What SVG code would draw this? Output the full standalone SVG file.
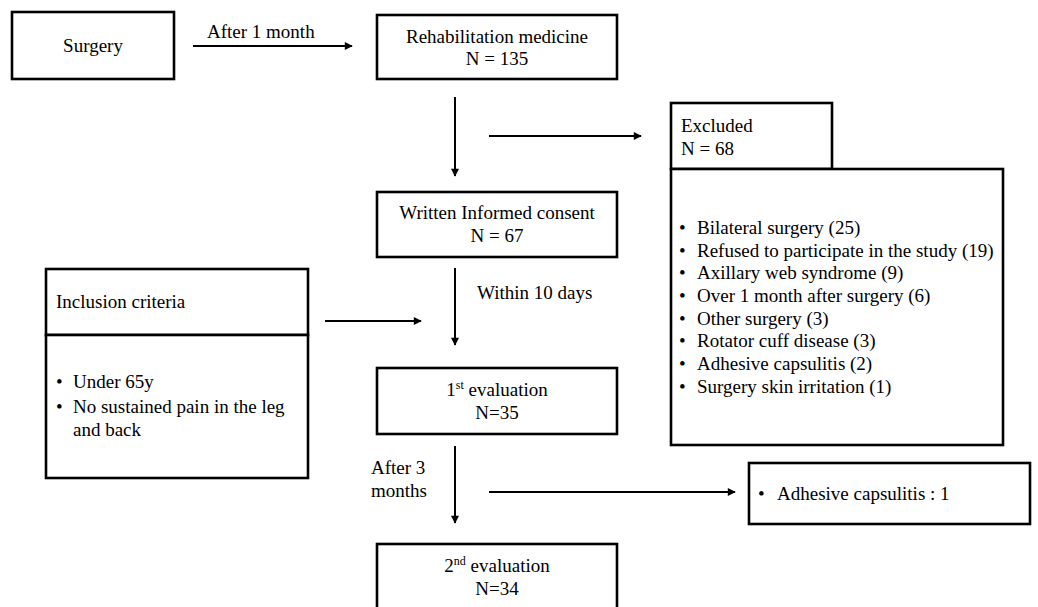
<svg xmlns="http://www.w3.org/2000/svg" width="1038" height="607" viewBox="0 0 1038 607">
<style>
.box{fill:#fff;stroke:#000;stroke-width:2.6}
.t{font-family:"Liberation Serif","Times New Roman",serif;font-size:19px;fill:#000}
.c{text-anchor:middle}
.ln{stroke:#000;stroke-width:2;fill:none}
</style>
<defs>
<marker id="ah" viewBox="0 0 10 10" refX="9" refY="5" markerWidth="9" markerHeight="8" markerUnits="userSpaceOnUse" orient="auto">
<path d="M0,0 L10,5 L0,10 z" fill="#000"/>
</marker>
</defs>
<rect width="1038" height="607" fill="#fff"/>
<g id="connectors">
<line class="ln" x1="193" y1="46" x2="352" y2="46" marker-end="url(#ah)"/>
<text class="t" x="207" y="38">After 1 month</text>
<line class="ln" x1="455" y1="97" x2="455" y2="176" marker-end="url(#ah)"/>
<line class="ln" x1="489" y1="136" x2="641" y2="136" marker-end="url(#ah)"/>
<line class="ln" x1="455" y1="268" x2="455" y2="345" marker-end="url(#ah)"/>
<text class="t" x="477" y="299">Within 10 days</text>
<line class="ln" x1="325" y1="321" x2="421" y2="321" marker-end="url(#ah)"/>
<line class="ln" x1="455" y1="446" x2="455" y2="523" marker-end="url(#ah)"/>
<text class="t" x="371" y="474">After 3</text>
<text class="t" x="371" y="497">months</text>
<line class="ln" x1="489" y1="492" x2="735" y2="492" marker-end="url(#ah)"/>
</g>
<g id="surgery">
<rect class="box" x="12" y="12" width="162" height="67"/>
<text class="t c" x="93" y="52">Surgery</text>
</g>
<g id="rehab">
<rect class="box" x="377" y="15" width="240" height="64"/>
<text class="t c" x="497" y="43">Rehabilitation medicine</text>
<text class="t c" x="497" y="65">N = 135</text>
</g>
<g id="excluded">
<rect class="box" x="671" y="103" width="161" height="66"/>
<text class="t" x="681" y="132">Excluded</text>
<text class="t" x="681" y="155">N = 68</text>
</g>
<g id="excluded-list">
<rect class="box" x="671" y="169" width="332" height="276"/>
<g class="t">
<text x="679" y="234">•</text><text x="697" y="234">Bilateral surgery (25)</text>
<text x="679" y="257">•</text><text x="697" y="257">Refused to participate in the study (19)</text>
<text x="679" y="279">•</text><text x="697" y="279">Axillary web syndrome (9)</text>
<text x="679" y="302">•</text><text x="697" y="302">Over 1 month after surgery (6)</text>
<text x="679" y="325">•</text><text x="697" y="325">Other surgery (3)</text>
<text x="679" y="347">•</text><text x="697" y="347">Rotator cuff disease (3)</text>
<text x="679" y="370">•</text><text x="697" y="370">Adhesive capsulitis (2)</text>
<text x="679" y="393">•</text><text x="697" y="393">Surgery skin irritation (1)</text>
</g>
</g>
<g id="consent">
<rect class="box" x="377" y="192" width="240" height="65"/>
<text class="t c" x="497" y="219">Written Informed consent</text>
<text class="t c" x="497" y="242">N = 67</text>
</g>
<g id="inclusion">
<rect class="box" x="46" y="269" width="262" height="66"/>
<text class="t" x="56" y="308">Inclusion criteria</text>
</g>
<g id="inclusion-list">
<rect class="box" x="46" y="335" width="262" height="143"/>
<g class="t">
<text x="56" y="388">•</text><text x="73" y="388">Under 65y</text>
<text x="56" y="413">•</text><text x="73" y="413">No sustained pain in the leg</text>
<text x="73" y="436">and back</text>
</g>
</g>
<g id="eval1">
<rect class="box" x="377" y="368" width="240" height="66"/>
<text class="t c" x="497" y="396">1<tspan font-size="12" dy="-7">st</tspan><tspan dy="7"> evaluation</tspan></text>
<text class="t c" x="497" y="419">N=35</text>
</g>
<g id="adhesive">
<rect class="box" x="749" y="463" width="281" height="61"/>
<text class="t" x="758" y="500">•</text><text class="t" x="777" y="500">Adhesive capsulitis : 1</text>
</g>
<g id="eval2">
<rect class="box" x="377" y="544" width="240" height="70"/>
<text class="t c" x="497" y="572">2<tspan font-size="12" dy="-7">nd</tspan><tspan dy="7"> evaluation</tspan></text>
<text class="t c" x="497" y="595">N=34</text>
</g>
</svg>
